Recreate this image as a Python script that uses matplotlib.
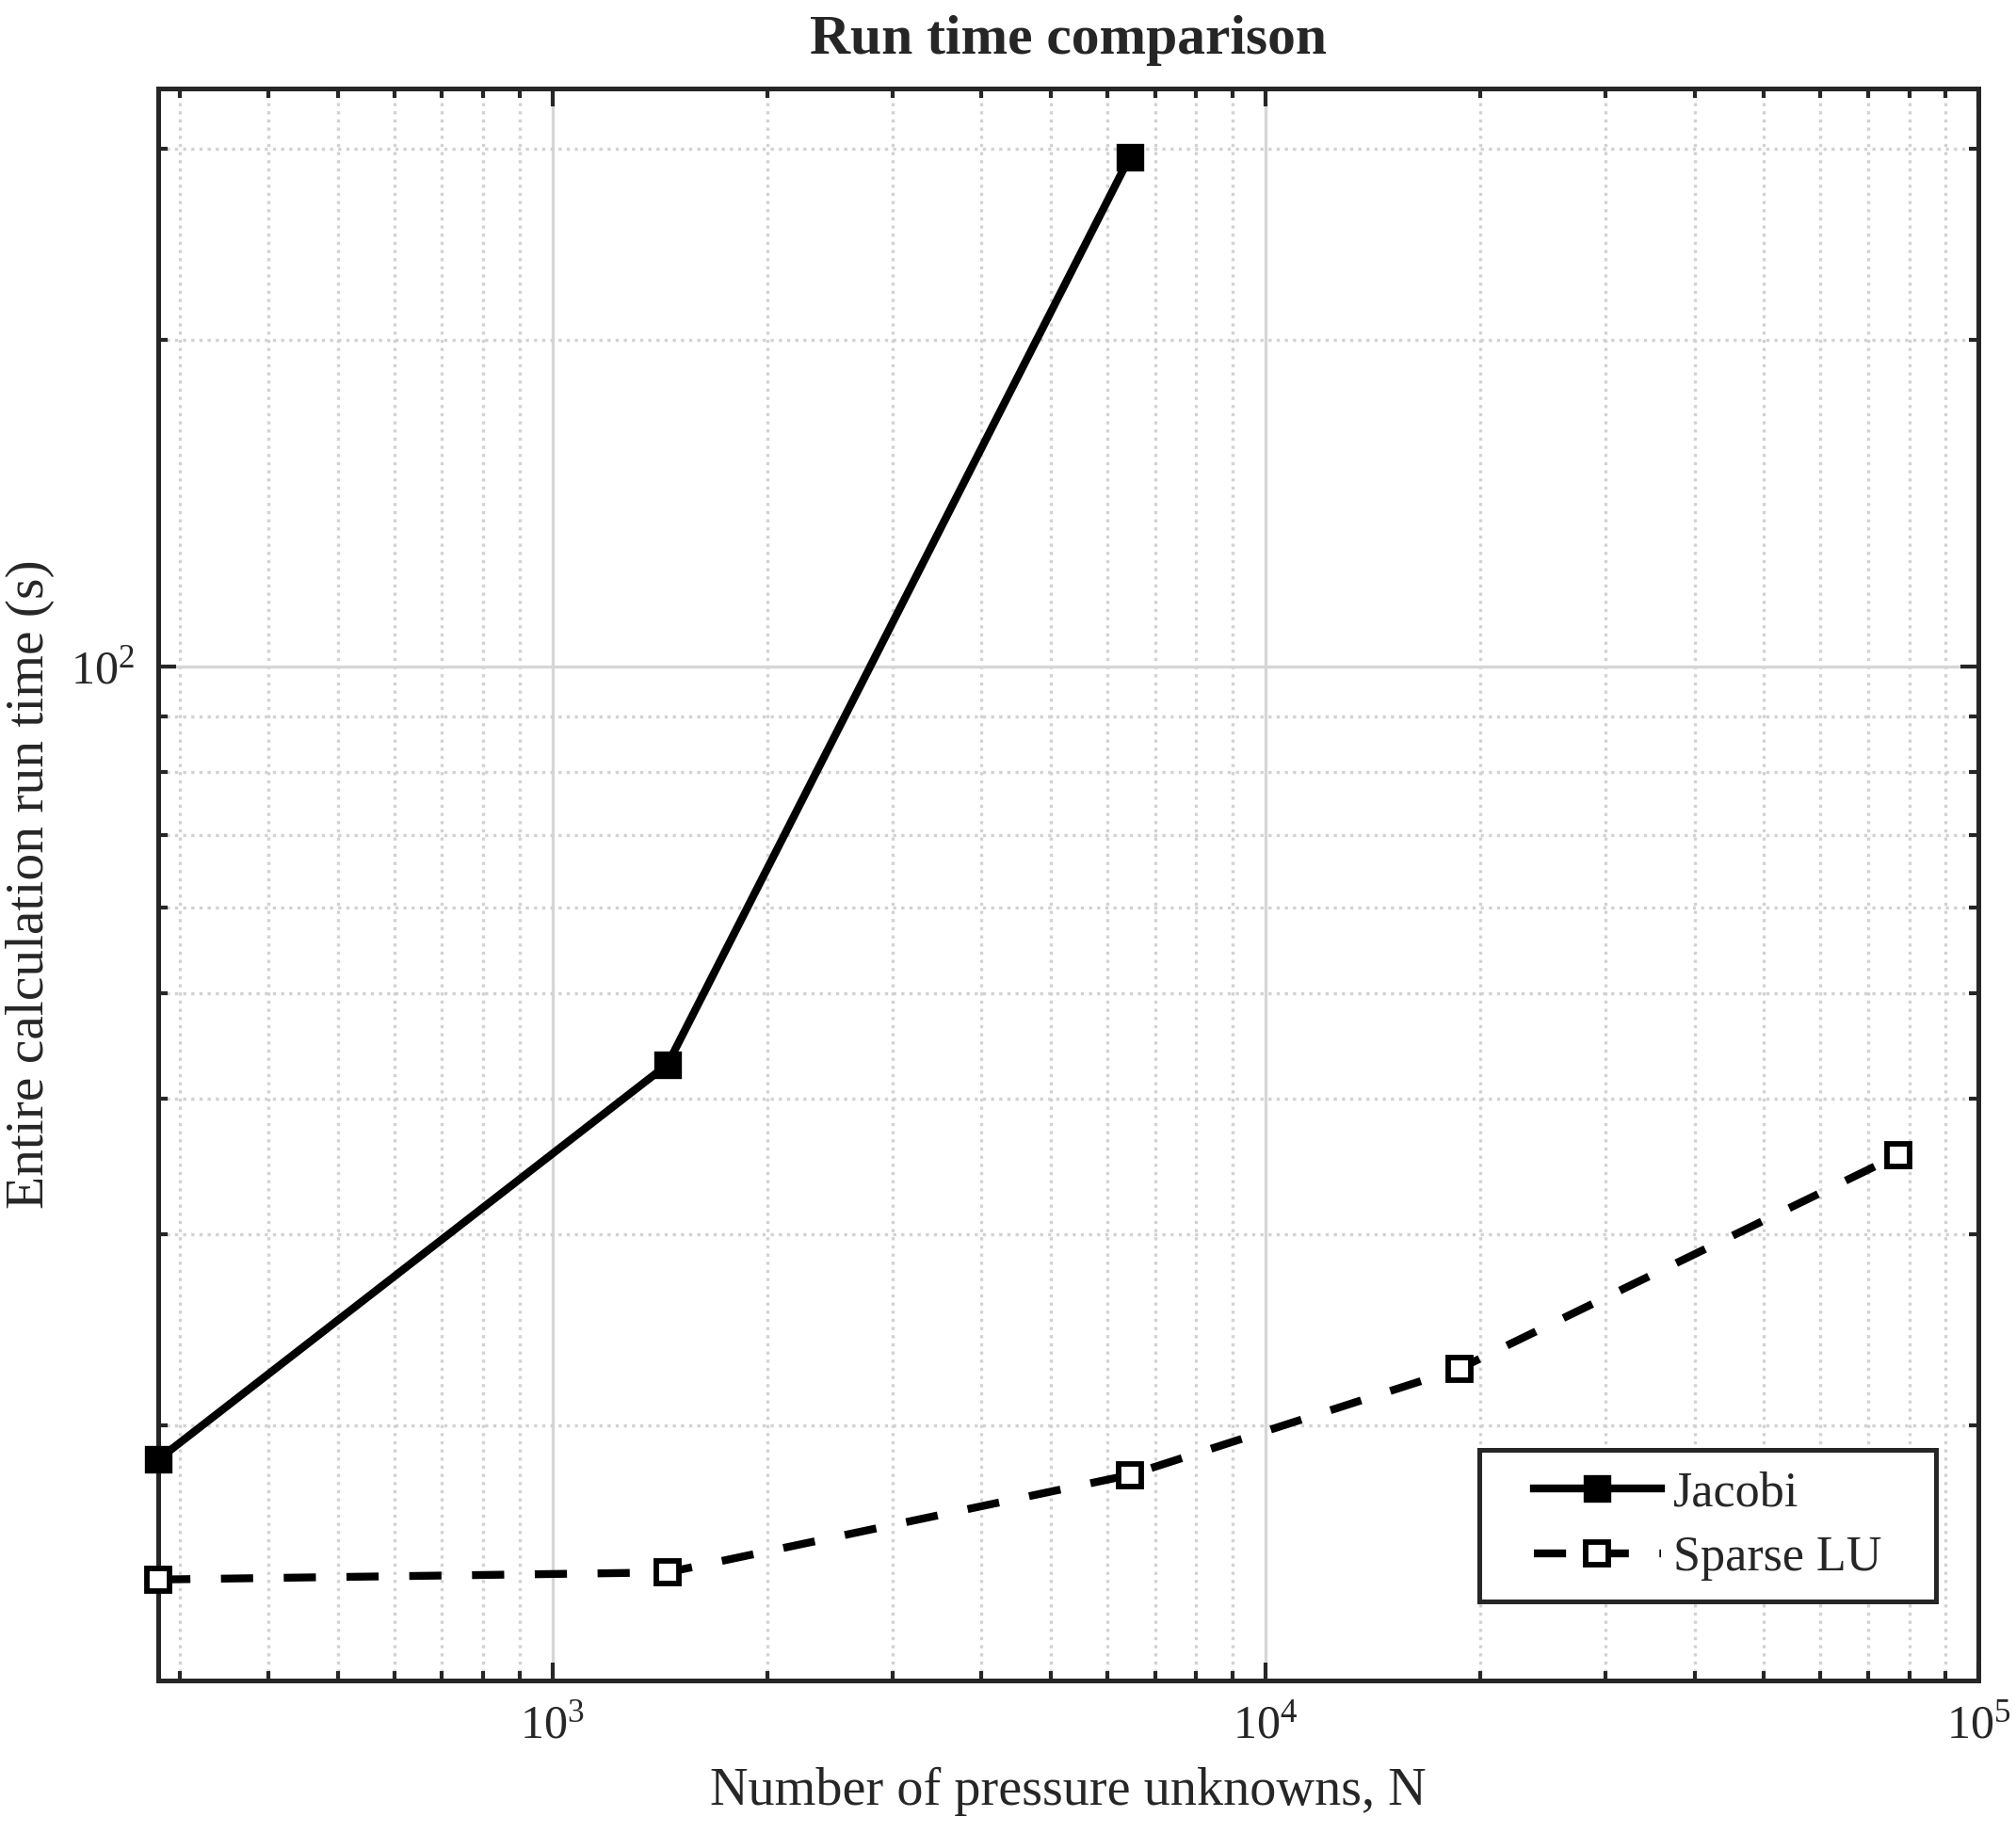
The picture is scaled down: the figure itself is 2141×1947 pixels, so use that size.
import matplotlib
matplotlib.use("Agg")
import matplotlib.pyplot as plt
from matplotlib.patches import Rectangle
from matplotlib.ticker import LogLocator, NullFormatter

plt.rcParams["font.family"] = ["Liberation Serif", "DejaVu Serif"]
plt.rcParams["mathtext.fontset"] = "custom"
plt.rcParams["mathtext.rm"] = "Liberation Serif"
plt.rcParams["mathtext.it"] = "Liberation Serif:italic"

# values
n_jacobi = [280, 1450, 6450]
t_jacobi = [18.6, 43.0, 294.6]
n_lu = [280, 1450, 6450, 18700, 77300]
t_lu = [14.42, 14.64, 18.0, 22.55, 35.5]

ink = "#262626"

fig = plt.figure(figsize=(2141 / 300, 1947 / 300), dpi=300)
ax = fig.add_axes([168 / 2141, 1 - 1785 / 1947, 1933 / 2141, 1691 / 1947])

ax.plot(n_jacobi, t_jacobi, color="k", lw=2, marker="s", ms=6.2, mew=0.8,
        mfc="k", mec="k", label="Jacobi", zorder=3, clip_on=False)
ax.plot(n_lu, t_lu, color="k", lw=2, ls=(0, (4.1, 3.9)), marker="s", ms=5.6,
        mew=1.4, mfc="white", mec="k", label="Sparse LU", zorder=3,
        clip_on=False)

ax.set_xscale("log")
ax.set_yscale("log")
ax.set_xlim(280, 1e5)
ax.set_ylim(11.64, 341)

ax.xaxis.set_minor_locator(LogLocator(base=10, subs=range(2, 10), numticks=20))
ax.yaxis.set_minor_locator(LogLocator(base=10, subs=range(2, 10), numticks=20))
ax.xaxis.set_minor_formatter(NullFormatter())
ax.yaxis.set_minor_formatter(NullFormatter())

ax.grid(which="major", color="#d6d6d6", ls="-", lw=0.8, zorder=0)
ax.grid(which="minor", color="#d2d2d2", ls=(0, (1, 1.6)), lw=0.8, zorder=0)
ax.set_axisbelow(True)

ax.tick_params(which="both", direction="in", top=True, right=True,
               colors=ink, width=1.0, labelsize=12)
ax.tick_params(which="major", length=4.6, pad=6)
ax.tick_params(which="minor", length=2.4)
for s in ax.spines.values():
    s.set_color(ink)
    s.set_linewidth(1.2)

ax.set_xlabel("Number of pressure unknowns, N", fontsize=13.5, color=ink)
ax.xaxis.set_label_coords(0.5, -0.054)
ax.set_ylabel("Entire calculation run time (s)", fontsize=13.8, color=ink)
ax.yaxis.set_label_coords(-0.057, 0.5)
ax.set_title("Run time comparison", fontsize=14.3, fontweight="bold",
             color=ink, pad=9)

# legend frame drawn as a plain rectangle
x0, y0, x1, y1 = 0.726, 0.0497, 0.9767, 0.1449
ax.add_patch(Rectangle((x0, y0), x1 - x0, y1 - y0, transform=ax.transAxes,
                       facecolor="white", edgecolor=ink, lw=1.2, zorder=4))
leg = ax.legend(loc="center", bbox_to_anchor=((x0 + x1) / 2, (y0 + y1) / 2),
                frameon=False, fontsize=12.5, handlelength=2.58,
                handletextpad=0.25, labelspacing=0.4, borderpad=0)
leg.set_zorder(5)
for t in leg.get_texts():
    t.set_color(ink)

fig.savefig("out.png", dpi=300)
